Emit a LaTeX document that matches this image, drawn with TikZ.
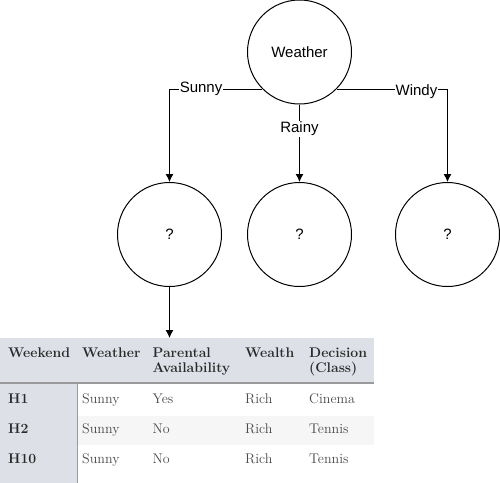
\documentclass[tikz,border=0pt]{standalone}
\usepackage{fontspec}
\newfontfamily\labelfont{Liberation Sans}
\usetikzlibrary{arrows,arrows.meta,quotes}
\definecolor{headgray}{HTML}{DDE1E7}
\definecolor{rowgray}{HTML}{F6F6F6}
\definecolor{linegray}{HTML}{9A9A9A}
\definecolor{headtext}{HTML}{2A2A2A}
\definecolor{bodytext}{HTML}{4A4A4A}

\begin{document}
\begin{tikzpicture}[
  x=1pt, y=-1pt,
  cnode/.style={draw,circle,line width=1pt,minimum size=104pt,inner sep=0pt,font=\labelfont\fontsize{15}{18}\selectfont},
  elabel/.style={fill=white,inner sep=1pt,font=\labelfont\fontsize{15}{18}\selectfont},
  tblock/.style={rectangle,anchor=north west,inner sep=0pt,draw=none},
  hcell/.style={anchor=base west,align=left,inner sep=0pt,text=headtext,font=\bfseries\fontsize{14}{15.5}\selectfont},
  bcell/.style={anchor=base west,inner sep=0pt,text=bodytext,font=\fontsize{14}{15.5}\selectfont}
]
  \useasboundingbox (0,0) rectangle (500,482);

  % tree nodes
  \node[cnode] (w) at (299.5,52) {Weather};
  \node[cnode] (c1) at (169.5,234.5) {?};
  \node[cnode] (c2) at (299.5,234.5) {?};
  \node[cnode] (c3) at (447.5,234.5) {?};

  % tree edges
  \draw[line width=1pt,-{Latex[length=8pt,width=8pt]}] (w.225) -| node[elabel,pos=0.33] {Sunny} (c1.north);
  \draw[line width=1pt,-{Latex[length=8pt,width=8pt]}] (w.south) -- node[elabel,pos=0.31] {Rainy} (c2.north);
  \draw[line width=1pt,-{Latex[length=8pt,width=8pt]}] (w.-45) -| node[elabel,pos=0.36,yshift=-2pt] {Windy} (c3.north);

  % table background
  \node[tblock,fill=headgray,minimum width=374pt,minimum height=44.5pt] (thead) at (0,338) {};
  \node[tblock,fill=headgray,minimum width=77pt,minimum height=100pt] (tcol) at (0,382.5) {};
  \node[tblock,fill=rowgray,minimum width=296pt,minimum height=28.5pt] (trow) at (78,416) {};
  \draw[linegray,line width=1.5pt] (thead.south west) -- (thead.south east);
  \draw[linegray,line width=1.5pt] (tcol.north east) -- (tcol.south east);

  % arrow into table
  \draw[line width=1pt,-{Latex[length=8pt,width=8pt]}] (c1.south) -- (c1.south |- thead.north);

  % header
  \node[hcell] (hweekend) at (8,357) {Weekend};
  \node[hcell] (hweather) at (82,357) {Weather};
  \node[hcell] (hparent) at (152.5,372.5) {Parental\\Availability};
  \node[hcell] (hwealth) at (245,357) {Wealth};
  \node[hcell] (hclass) at (309,372.5) {Decision\\(Class)};

  % rows
  \node[hcell] (k1) at (8,403) {H1};
  \node[bcell] (w1) at (82,403) {Sunny};
  \node[bcell] (p1) at (152.5,403) {Yes};
  \node[bcell] (r1) at (245,403) {Rich};
  \node[bcell] (d1) at (309,403) {Cinema};

  \node[hcell] (k2) at (8,433) {H2};
  \node[bcell] (w2) at (82,433) {Sunny};
  \node[bcell] (p2) at (152.5,433) {No};
  \node[bcell] (r2) at (245,433) {Rich};
  \node[bcell] (d2) at (309,433) {Tennis};

  \node[hcell] (k3) at (8,463) {H10};
  \node[bcell] (w3) at (82,463) {Sunny};
  \node[bcell] (p3) at (152.5,463) {No};
  \node[bcell] (r3) at (245,463) {Rich};
  \node[bcell] (d3) at (309,463) {Tennis};

\end{tikzpicture}
\end{document}
